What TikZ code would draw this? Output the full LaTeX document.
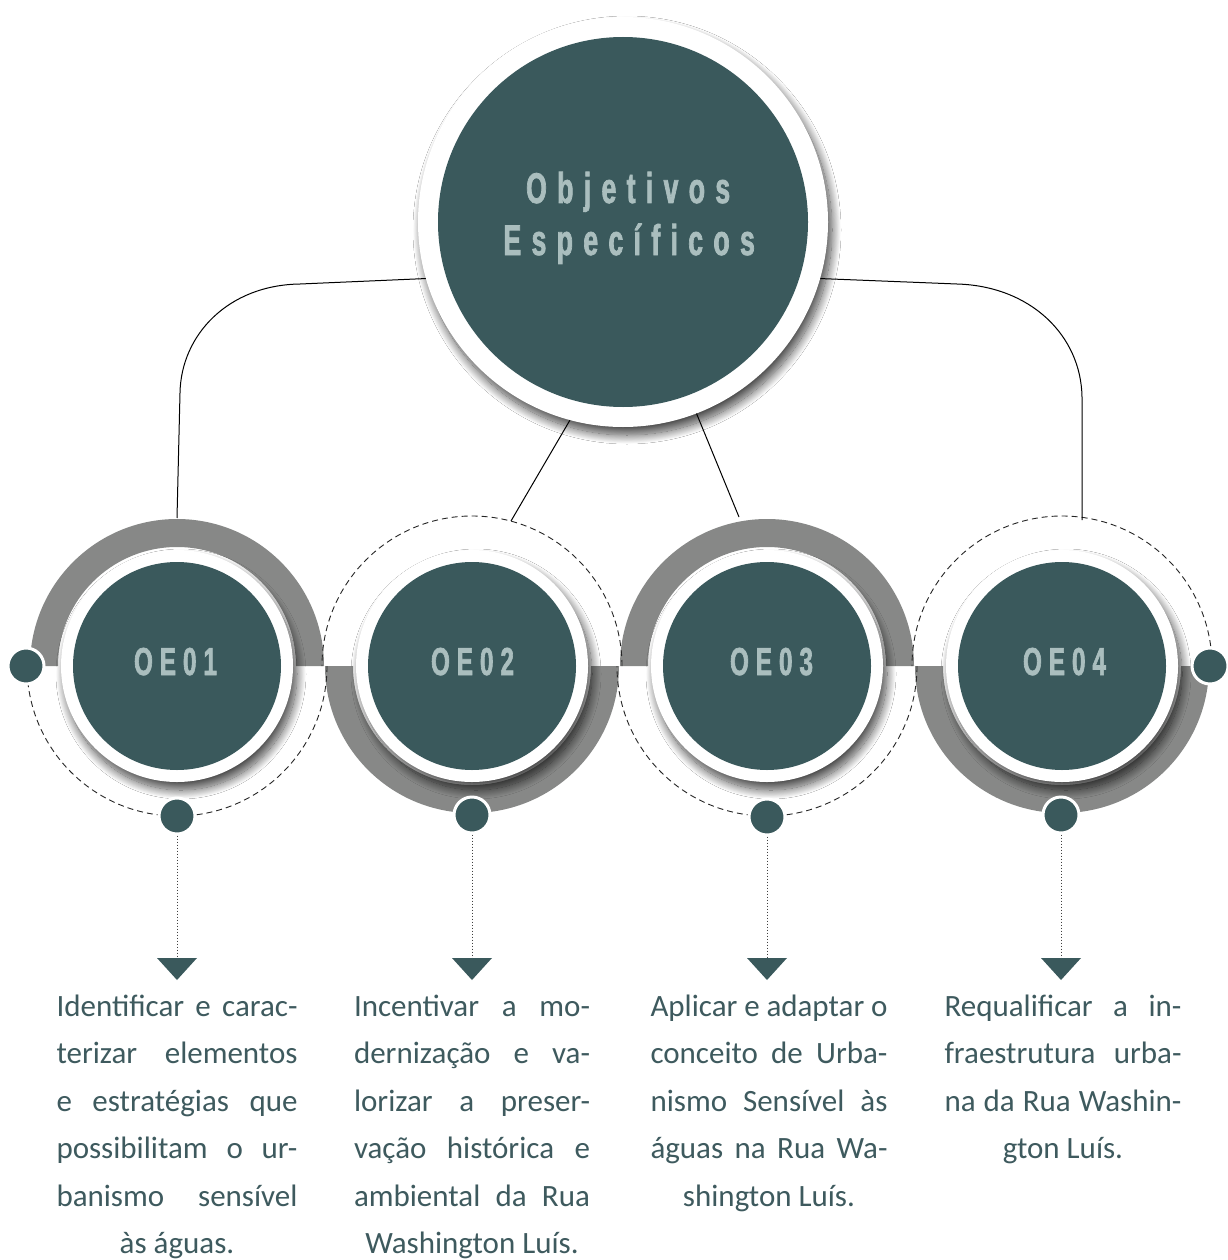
\documentclass[tikz,border=0pt]{standalone}
\usepackage{fontspec}
\setmainfont{Carlito}
\newfontfamily\agency[FakeStretch=0.62,FakeBold=1.6,LetterSpace=24]{Liberation Sans}
\newfontfamily\agencyoe[FakeStretch=0.62,FakeBold=1.6,LetterSpace=18]{Liberation Sans}
\usetikzlibrary{shadows.blur,calc}
\definecolor{oedark}{RGB}{58,89,92}
\definecolor{oegray}{RGB}{135,136,135}
\definecolor{oelight}{RGB}{170,190,190}
\definecolor{oetext}{RGB}{62,90,94}
\begin{document}
\begin{tikzpicture}[x=1pt,y=-1pt,
  ringnode/.style={circle,fill=white,inner sep=0pt,minimum size=#1,
     blur shadow={shadow xshift=4pt,shadow yshift=-8pt,shadow opacity=72,shadow blur radius=9pt,shadow blur steps=20}},
  corenode/.style={circle,fill=oedark,inner sep=0pt,minimum size=#1},
  band/.style={fill=oegray},
  halo/.style={draw=black!85,line width=0.9pt,dash pattern=on 6pt off 4pt},
  dotnode/.style={circle,fill=oedark,draw=white,line width=3pt,minimum size=36pt,inner sep=0pt},
  link/.style={draw=black,line width=1pt},
  guide/.style={draw=black!75,line width=1pt,dash pattern=on 1pt off 2pt},
  tri/.style={fill=oedark},
  jl/.style={anchor=base,inner sep=0pt,text=oetext,font=\fontsize{31}{48}\selectfont},
  oelabel/.style={text=oelight,font=\agencyoe\bfseries\fontsize{39}{39}\selectfont,anchor=base,inner sep=0pt},
  titlelabel/.style={text=oelight,font=\agency\bfseries\fontsize{43}{43}\selectfont,anchor=base,inner sep=0pt},
]
\useasboundingbox[fill=white] (0,0) rectangle (1227,1260);

% gray bands
\fill[band] (30,666) arc[start angle=180,end angle=360,radius=147] -- ++(-28,0) arc[start angle=360,end angle=180,radius=119] -- cycle;
\fill[band] (325,666) arc[start angle=180,end angle=0,radius=147] -- ++(-28,0) arc[start angle=0,end angle=180,radius=119] -- cycle;
\fill[band] (620,666) arc[start angle=180,end angle=360,radius=147] -- ++(-28,0) arc[start angle=360,end angle=180,radius=119] -- cycle;
\fill[band] (915,666) arc[start angle=180,end angle=0,radius=147] -- ++(-28,0) arc[start angle=0,end angle=180,radius=119] -- cycle;

% dashed halves
\draw[halo] (327,666) arc[start angle=0,end angle=180,radius=150];
\draw[halo] (622,666) arc[start angle=0,end angle=-180,radius=150];
\draw[halo] (917,666) arc[start angle=0,end angle=180,radius=150];
\draw[halo] (1212,666) arc[start angle=0,end angle=-180,radius=150];

% small circles
\node[ringnode=232pt] (r1) at (177,666) {};
\node[ringnode=232pt] (r2) at (472,666) {};
\node[ringnode=232pt] (r3) at (767,666) {};
\node[ringnode=232pt] (r4) at (1062,666) {};
\node[corenode=208pt] (oe1) at (177,666) {};
\node[corenode=208pt] (oe2) at (472,666) {};
\node[corenode=208pt] (oe3) at (767,666) {};
\node[corenode=208pt] (oe4) at (1062,666) {};
\node[oelabel] (l1) at (172,675) {OE01\kern-7pt};
\node[oelabel] (l2) at (469,675) {OE02\kern-7pt};
\node[oelabel] (l3) at (768,675) {OE03\kern-7pt};
\node[oelabel] (l4) at (1061,675) {OE04\kern-7pt};

% main circle
\node[ringnode=410pt] (mainring) at (623,222) {};
\node[corenode=370pt] (main) at (623,222) {};
\node[titlelabel] (tt1) at (623,203) {Objetivos\kern-10.3pt};
\node[titlelabel] (tt2) at (624,255) {Específicos\kern-10.3pt};

% connector end points
\coordinate (c1top) at (177,518);
\coordinate (c2top) at (511,521);
\coordinate (c3top) at (739,517);
\coordinate (c4top) at (1082,520);

\draw[link] (mainring.196) -- (300,284) .. controls (228,285) and (181,335) .. (180,393) -- (c1top);
\draw[link] (mainring.-16) -- (957,284) .. controls (1030,286) and (1081,335) .. (1082,397) -- (c4top);
\draw[link] (mainring.255) -- (c2top);
\draw[link] (mainring.291) -- (c3top);

% dots
\node[dotnode] (dl) at (26,666) {};
\node[dotnode] (dr) at (1210,666) {};
\node[dotnode] (d1) at (177,816) {};
\node[dotnode] (d2) at (472,815) {};
\node[dotnode] (d3) at (767,817) {};
\node[dotnode] (d4) at (1061,815) {};

% pointers
\coordinate (p1) at (177,958);
\coordinate (p2) at (472,958);
\coordinate (p3) at (767,958);
\coordinate (p4) at (1061,958);
\draw[guide] (d1.south) -- (p1);
\draw[guide] (d2.south) -- (p2);
\draw[guide] (d3.south) -- (p3);
\draw[guide] (d4.south) -- (p4);
\fill[tri] (p1) ++(-20,0) -- ++(40,0) -- ++(-20,22) -- cycle;
\fill[tri] (p2) ++(-20,0) -- ++(40,0) -- ++(-20,22) -- cycle;
\fill[tri] (p3) ++(-20,0) -- ++(40,0) -- ++(-20,22) -- cycle;
\fill[tri] (p4) ++(-20,0) -- ++(40,0) -- ++(-20,22) -- cycle;

% texts
\node[jl] (a1) at (177,1016) {\makebox[241pt][s]{Identificar e carac-}};
\node[jl] (a2) at (177,1063.5) {\makebox[241pt][s]{terizar elementos}};
\node[jl] (a3) at (177,1111) {\makebox[241pt][s]{e estratégias que}};
\node[jl] (a4) at (177,1158.5) {\makebox[241pt][s]{possibilitam o ur-}};
\node[jl] (a5) at (177,1206) {\makebox[241pt][s]{banismo sensível}};
\node[jl] (a6) at (177,1253.5) {às águas.};

\node[jl] (b1) at (472,1016) {\makebox[236pt][s]{Incentivar a mo-}};
\node[jl] (b2) at (472,1063.5) {\makebox[236pt][s]{dernização e va-}};
\node[jl] (b3) at (472,1111) {\makebox[236pt][s]{lorizar a preser-}};
\node[jl] (b4) at (472,1158.5) {\makebox[236pt][s]{vação histórica e}};
\node[jl] (b5) at (472,1206) {\makebox[236pt][s]{ambiental da Rua}};
\node[jl] (b6) at (472,1253.5) {Washington Luís.};

\node[jl] (e1) at (769,1016) {\makebox[237pt][s]{Aplicar e adaptar o}};
\node[jl] (e2) at (769,1063.5) {\makebox[237pt][s]{conceito de Urba-}};
\node[jl] (e3) at (769,1111) {\makebox[237pt][s]{nismo Sensível às}};
\node[jl] (e4) at (769,1158.5) {\makebox[237pt][s]{águas na Rua Wa-}};
\node[jl] (e5) at (769,1206) {shington Luís.};

\node[jl] (f1) at (1063,1016) {\makebox[237pt][s]{Requalificar a in-}};
\node[jl] (f2) at (1063,1063.5) {\makebox[237pt][s]{fraestrutura urba-}};
\node[jl] (f3) at (1063,1111) {\makebox[237pt][s]{na da Rua Washin-}};
\node[jl] (f4) at (1063,1158.5) {gton Luís.};
\end{tikzpicture}
\end{document}
